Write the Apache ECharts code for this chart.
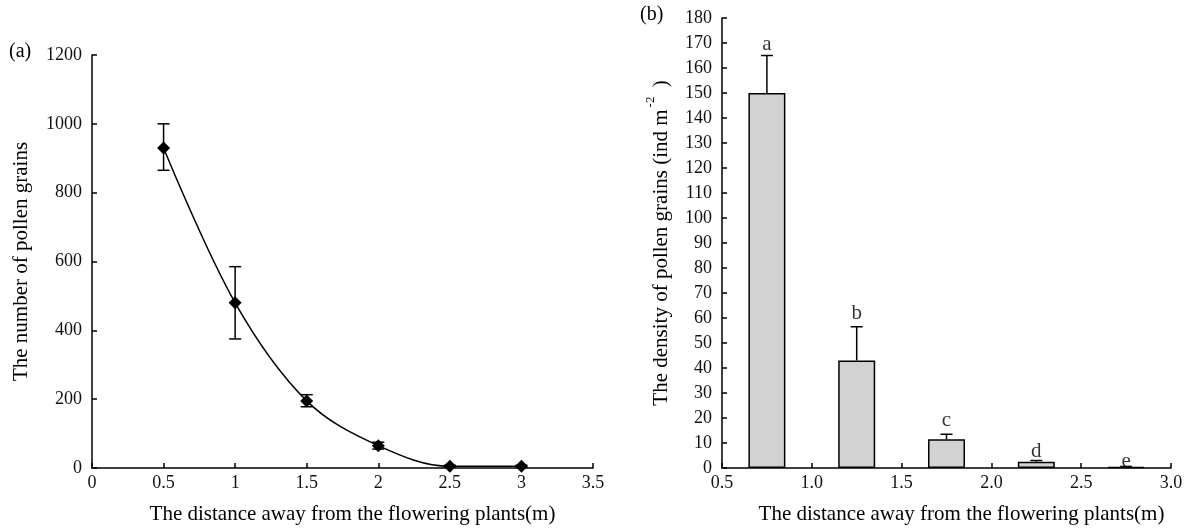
<!DOCTYPE html>
<html>
<head>
<meta charset="utf-8">
<script src="https://cdn.jsdelivr.net/npm/echarts@6/dist/echarts.min.js"></script>
<style>
  html, body { margin: 0; padding: 0; background: #fff; }
  #chart { width: 1186px; height: 530px; }
</style>
</head>
<body>
<div id="chart"></div>
<script>
// panel (a): number of pollen grains
const distA = [0.5, 1, 1.5, 2, 2.5, 3]
const countA = [930, 480, 195, 65, 5, 5]
const errLowA = [865, 375, 178, 55, 2, 2]
const errHighA = [1000, 585, 213, 75, 8, 8]

// panel (b): density of pollen grains
const distB = [0.75, 1.25, 1.75, 2.25, 2.75]
const densityB = [150, 43, 11.5, 2.5, 0.4]
const errTopB = [165, 56.5, 13.5, 3, 0.6]
const lettersB = ['a', 'b', 'c', 'd', 'e']
const letterPosB = [169.5, 62, 19, 6.8, 2.8]

const font = 'Liberation Serif'
const ink = '#000'

const myChart = echarts.init(document.getElementById('chart'))

// 误差线 (both directions, caps on both ends)
const errorBarBoth = (params, api) => {
    const x = api.value(0)
    const lo = api.coord([x, api.value(1)])
    const hi = api.coord([x, api.value(2)])
    const cap = 6
    const style = { stroke: ink, lineWidth: 1.5 }
    return {
        type: 'group',
        children: [
            { type: 'line', shape: { x1: lo[0], y1: lo[1], x2: hi[0], y2: hi[1] }, style },
            { type: 'line', shape: { x1: lo[0] - cap, y1: lo[1], x2: lo[0] + cap, y2: lo[1] }, style },
            { type: 'line', shape: { x1: hi[0] - cap, y1: hi[1], x2: hi[0] + cap, y2: hi[1] }, style }
        ]
    }
}

// 误差线 (upper only)
const errorBarUp = (params, api) => {
    const x = api.value(0)
    const base = api.coord([x, api.value(1)])
    const top = api.coord([x, api.value(2)])
    const cap = 6
    const style = { stroke: ink, lineWidth: 1.5 }
    return {
        type: 'group',
        children: [
            { type: 'line', shape: { x1: base[0], y1: base[1], x2: top[0], y2: top[1] }, style },
            { type: 'line', shape: { x1: top[0] - cap, y1: top[1], x2: top[0] + cap, y2: top[1] }, style }
        ]
    }
}

const axisCommon = {
    axisLine: { show: true, lineStyle: { color: ink, width: 1.5 } },
    axisTick: { show: true, inside: true, length: 5, lineStyle: { color: ink, width: 1.5 } },
    splitLine: { show: false },
    axisLabel: { color: '#111', fontFamily: font, fontSize: 18 },
    nameTextStyle: { color: ink, fontFamily: font, fontSize: 21 }
}

myChart.setOption({
    animation: false,
    textStyle: { fontFamily: font },
    graphic: [
        { type: 'text', left: 9, top: 42, style: { text: '(a)', fontFamily: font, fontSize: 20, fill: ink } },
        { type: 'text', left: 640, top: 5, style: { text: '(b)', fontFamily: font, fontSize: 20, fill: ink } }
    ],
    grid: [
        { left: 92, right: 593, top: 55, bottom: 61 },
        { left: 722, right: 15, top: 18, bottom: 62 }
    ],
    xAxis: [
        {
            ...axisCommon,
            gridIndex: 0,
            type: 'value',
            min: 0,
            max: 3.5,
            interval: 0.5,
            name: 'The distance away from the flowering plants(m)',
            nameLocation: 'middle',
            nameGap: 36,
            nameTextStyle: { ...axisCommon.nameTextStyle, padding: [0, 0, 0, 20] },
            axisLabel: { ...axisCommon.axisLabel, margin: 6 }
        },
        {
            ...axisCommon,
            gridIndex: 1,
            type: 'value',
            min: 0.5,
            max: 3.0,
            interval: 0.5,
            name: 'The distance away from the flowering plants(m)',
            nameLocation: 'middle',
            nameGap: 36,
            nameTextStyle: { ...axisCommon.nameTextStyle, padding: [0, 0, 0, 30] },
            axisLabel: { ...axisCommon.axisLabel, margin: 6, formatter: (v) => v.toFixed(1) }
        }
    ],
    yAxis: [
        {
            ...axisCommon,
            gridIndex: 0,
            type: 'value',
            min: 0,
            max: 1200,
            interval: 200,
            name: 'The number of pollen grains',
            nameLocation: 'middle',
            nameGap: 60,
            axisLabel: { ...axisCommon.axisLabel, margin: 10, formatter: (v) => String(v) }
        },
        {
            ...axisCommon,
            gridIndex: 1,
            type: 'value',
            min: 0,
            max: 180,
            interval: 10,
            name: '{n|The density of pollen grains (ind m}{s|-2}{n| )}',
            nameLocation: 'middle',
            nameGap: 50,
            nameTextStyle: {
                rich: {
                    n: { fontFamily: font, fontSize: 21, color: ink, lineHeight: 28, verticalAlign: 'bottom' },
                    s: { fontFamily: font, fontSize: 13, color: ink, lineHeight: 28, verticalAlign: 'top', padding: [0, 4, 0, 2] }
                }
            },
            axisLabel: { ...axisCommon.axisLabel, margin: 10 }
        }
    ],
    series: [
        {
            name: 'count',
            type: 'line',
            xAxisIndex: 0,
            yAxisIndex: 0,
            data: distA.map((x, i) => [x, countA[i]]),
            smooth: 0.35,
            symbol: 'diamond',
            symbolSize: 13,
            itemStyle: { color: ink },
            lineStyle: { color: ink, width: 1.5 },
            z: 3
        },
        {
            name: 'countErr',
            type: 'custom',
            xAxisIndex: 0,
            yAxisIndex: 0,
            renderItem: errorBarBoth,
            data: distA.map((x, i) => [x, errLowA[i], errHighA[i]]),
            z: 4
        },
        {
            name: 'density',
            type: 'bar',
            xAxisIndex: 1,
            yAxisIndex: 1,
            data: distB.map((x, i) => [x, densityB[i]]),
            barWidth: 37,
            itemStyle: { color: '#d2d2d2', borderColor: ink, borderWidth: 1.5 },
            z: 2
        },
        {
            name: 'densityErr',
            type: 'custom',
            xAxisIndex: 1,
            yAxisIndex: 1,
            renderItem: errorBarUp,
            data: distB.map((x, i) => [x, densityB[i], errTopB[i]]),
            z: 3
        },
        {
            name: 'letters',
            type: 'scatter',
            xAxisIndex: 1,
            yAxisIndex: 1,
            symbolSize: 0,
            data: distB.map((x, i) => ({ value: [x, letterPosB[i]], name: lettersB[i] })),
            label: {
                show: true,
                position: 'inside',
                formatter: (p) => p.name,
                fontFamily: font,
                fontSize: 21,
                color: ink
            },
            z: 5
        }
    ]
})
</script>
</body>
</html>
